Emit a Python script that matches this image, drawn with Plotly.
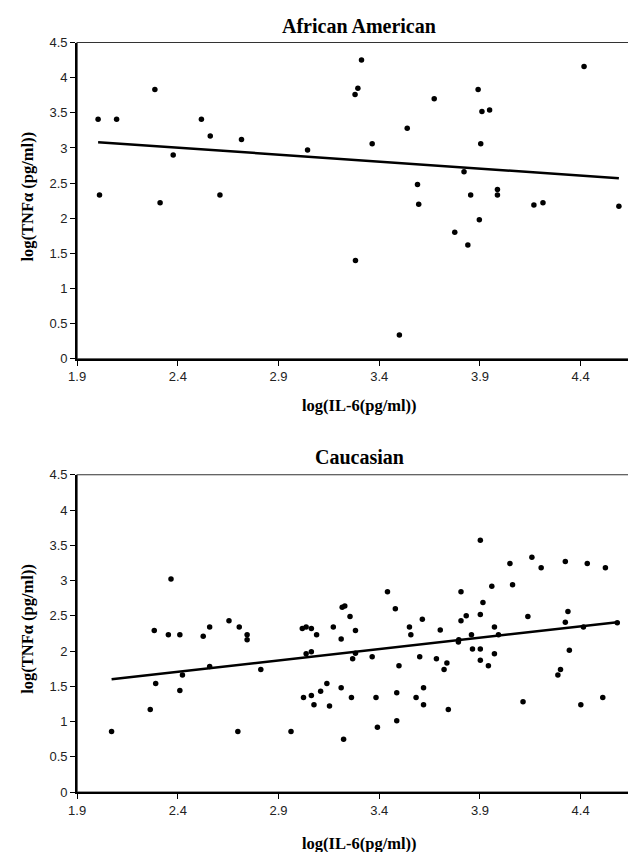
import numpy as np
import plotly.graph_objects as go

# ---------------- data ----------------
aa_il6 = [2.004, 2.096, 2.286, 2.377, 2.517, 2.561, 2.716, 3.044, 2.011, 2.312,
          2.609, 3.312, 3.294, 3.280, 3.673, 3.539, 3.365, 3.891, 3.910, 3.948,
          3.904, 4.417, 3.821, 3.590, 3.854, 3.987, 3.987, 3.596, 4.168, 4.213,
          4.590, 3.897, 3.775, 3.840, 3.282, 3.500]
aa_tnf = [3.41, 3.41, 3.83, 2.90, 3.41, 3.17, 3.12, 2.97, 2.33, 2.22,
          2.33, 4.25, 3.85, 3.76, 3.70, 3.28, 3.06, 3.83, 3.52, 3.54,
          3.06, 4.16, 2.66, 2.48, 2.33, 2.41, 2.33, 2.20, 2.19, 2.22,
          2.17, 1.98, 1.80, 1.62, 1.40, 0.34]

ca_il6 = [2.071, 2.263, 2.283, 2.290, 2.353, 2.366, 2.410, 2.410, 2.423, 2.526,
          2.558, 2.558, 2.654, 2.698, 2.705, 2.744, 2.744, 2.812, 2.962,
          3.216, 3.229, 3.255, 3.480, 3.441, 3.614, 3.018, 3.037, 3.063, 3.089,
          3.172, 3.211, 3.282, 3.550, 3.557, 3.703, 3.037, 3.063, 3.282, 3.268,
          3.365, 3.498, 3.601, 3.684, 3.736, 3.722, 3.793, 3.795, 3.024, 3.063,
          3.076, 3.109, 3.140, 3.153, 3.211, 3.262, 3.384, 3.487, 3.583, 3.620,
          3.620, 3.743, 3.223, 3.391, 3.487,
          3.902, 4.049, 4.158, 4.204, 4.324, 4.433, 4.523, 3.806, 3.959, 4.062,
          3.915, 3.806, 3.832, 3.902, 4.138, 4.337, 4.324, 3.858, 3.972, 3.992,
          4.414, 4.582, 3.863, 3.902, 3.902, 3.942, 3.972, 4.344, 4.300, 4.287,
          4.114, 4.401, 4.510]
ca_tnf = [0.86, 1.17, 2.29, 1.54, 2.23, 3.02, 2.23, 1.44, 1.66, 2.21,
          2.34, 1.78, 2.43, 0.86, 2.34, 2.23, 2.16, 1.74, 0.86,
          2.62, 2.64, 2.49, 2.60, 2.84, 2.45, 2.32, 2.34, 2.32, 2.23,
          2.34, 2.17, 2.29, 2.34, 2.23, 2.30, 1.96, 1.99, 1.97, 1.89,
          1.92, 1.79, 1.92, 1.89, 1.83, 1.74, 2.13, 2.16, 1.34, 1.37,
          1.24, 1.43, 1.54, 1.22, 1.48, 1.34, 1.34, 1.41, 1.34, 1.48,
          1.24, 1.17, 0.75, 0.92, 1.01,
          3.57, 3.24, 3.33, 3.18, 3.27, 3.24, 3.18, 2.84, 2.92, 2.94,
          2.69, 2.43, 2.50, 2.52, 2.49, 2.56, 2.41, 2.23, 2.34, 2.23,
          2.34, 2.40, 2.03, 2.03, 1.87, 1.79, 1.96, 2.01, 1.74, 1.66,
          1.28, 1.24, 1.34]

panel_titles = ["African American", "Caucasian"]
x_title = "log(IL-6(pg/ml))"
y_title = "log(TNFα (pg/ml))"
x_ticks = [1.9, 2.4, 2.9, 3.4, 3.9, 4.4]
y_ticks = [0, 0.5, 1, 1.5, 2, 2.5, 3, 3.5, 4, 4.5]

# ---------------- figure ----------------
W, H = 636, 852
fig = go.Figure()

def trend(xs, ys):
    xs = np.asarray(xs); ys = np.asarray(ys)
    m, b = np.polyfit(xs, ys, 1)
    tx = np.array([xs.min(), xs.max()])
    return tx, m * tx + b

panels = [(aa_il6, aa_tnf, "x", "y"), (ca_il6, ca_tnf, "x2", "y2")]
for xs, ys, xa, ya in panels:
    tx, ty = trend(xs, ys)
    fig.add_trace(go.Scatter(x=tx, y=ty, mode="lines", xaxis=xa, yaxis=ya,
                             line=dict(color="black", width=2.5),
                             showlegend=False, hoverinfo="skip"))
    fig.add_trace(go.Scatter(x=xs, y=ys, mode="markers", xaxis=xa, yaxis=ya,
                             marker=dict(color="black", size=5.5),
                             showlegend=False))

def py(p):
    return 1 - p / H

xdom = [61 / W, 633 / W]
tickfont = dict(family="Liberation Sans, Arial", size=13, color="#222")
axis_common = dict(showgrid=False, zeroline=False, showline=True,
                   linecolor="black", linewidth=2, ticks="outside",
                   ticklen=5, tickwidth=1, tickcolor="black",
                   tickfont=tickfont)

fig.update_layout(
    width=W, height=H,
    margin=dict(l=0, r=0, t=0, b=0),
    paper_bgcolor="white", plot_bgcolor="white",
    xaxis=dict(domain=xdom, anchor="y", range=[1.9, 4.7], tickvals=x_ticks,
               **axis_common),
    yaxis=dict(domain=[py(350), py(28)], anchor="x", range=[0, 4.5],
               tickvals=y_ticks, **axis_common),
    xaxis2=dict(domain=xdom, anchor="y2", range=[1.9, 4.7], tickvals=x_ticks,
                **axis_common),
    yaxis2=dict(domain=[py(791), py(468)], anchor="x2", range=[0, 4.5],
                tickvals=y_ticks, **axis_common),
)

# plot-area borders (thin frame)
for xr, yr in [("x domain", "y domain"), ("x2 domain", "y2 domain")]:
    fig.add_shape(type="rect", xref=xr, yref=yr, x0=0, x1=1, y0=0, y1=1,
                  line=dict(color="#333", width=1.2), layer="below")

title_font = dict(family="Liberation Serif, Times New Roman", size=20, color="black")
label_font = dict(family="Liberation Serif, Times New Roman", size=16.5, color="black")
xc = (61 + 633) / 2 / W
for title, ty, xty, yty in [(panel_titles[0], 11, 398, 185),
                            (panel_titles[1], 450, 843, 625)]:
    fig.add_annotation(text=f"<b>{title}</b>", x=xc, y=py(ty), xref="paper",
                       yref="paper", showarrow=False, font=title_font,
                       xanchor="center", yanchor="middle")
    fig.add_annotation(text=f"<b>{x_title}</b>", x=xc, y=py(xty), xref="paper",
                       yref="paper", showarrow=False, font=label_font,
                       xanchor="center", yanchor="middle")
    fig.add_annotation(text=f"<b>{y_title}</b>", x=11 / W, y=py(yty),
                       xref="paper", yref="paper", showarrow=False,
                       font=label_font, textangle=-90,
                       xanchor="center", yanchor="middle")

fig.write_html("out.html")
